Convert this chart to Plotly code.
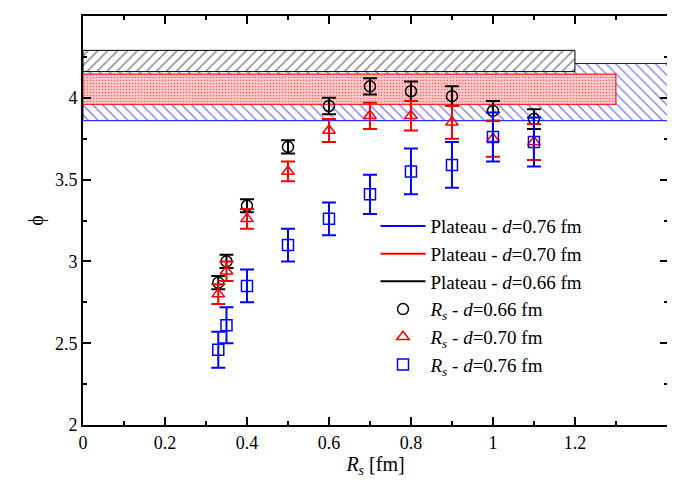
import plotly.graph_objects as go

rs = [0.33, 0.35, 0.4, 0.5, 0.6, 0.7, 0.8, 0.9, 1.0, 1.1]
phi_066 = [2.87, 3.00, 3.34, 3.70, 3.95, 4.07, 4.04, 4.01, 3.92, 3.87]
err_066 = [0.04, 0.04, 0.04, 0.04, 0.05, 0.05, 0.06, 0.06, 0.06, 0.06]
phi_070 = [2.80, 2.94, 3.26, 3.55, 3.80, 3.89, 3.89, 3.85, 3.75, 3.73]
err_070 = [0.06, 0.06, 0.06, 0.06, 0.07, 0.08, 0.09, 0.10, 0.11, 0.11]
phi_076 = [2.46, 2.61, 2.85, 3.10, 3.26, 3.41, 3.55, 3.59, 3.76, 3.73]
err_076 = [0.11, 0.11, 0.10, 0.10, 0.10, 0.12, 0.14, 0.14, 0.15, 0.15]

# plateau bands: (low, high, x end)
band_076 = (3.86, 4.21, 1.43)
band_070 = (3.96, 4.145, 1.3)
band_066 = (4.16, 4.29, 1.2)

fig = go.Figure()

def band(b, line, shape, bg, size):
    lo, hi, xe = b
    fig.add_trace(go.Scatter(x=[0, xe, xe, 0, 0], y=[lo, lo, hi, hi, lo], mode="lines",
                             fill="toself", fillcolor=bg, line=dict(color=line, width=1),
                             fillpattern=dict(shape=shape, fgcolor=line, bgcolor=bg, size=size, solidity=0.2),
                             showlegend=False, hoverinfo="skip"))

band(band_076, "blue", "\\", "white", 7)
band(band_070, "red", ".", "#ffc8c8", 3)
band(band_066, "black", "/", "white", 7)

for name, c in [("Plateau - <i>d</i>=0.76 fm", "blue"), ("Plateau - <i>d</i>=0.70 fm", "red"),
                ("Plateau - <i>d</i>=0.66 fm", "black")]:
    fig.add_trace(go.Scatter(x=[None], y=[None], mode="lines", name=name, line=dict(color=c, width=2)))

for y, e, c, sym, name in [(phi_066, err_066, "black", "circle-open", "<i>R<sub>s</sub></i> - <i>d</i>=0.66 fm"),
                           (phi_070, err_070, "red", "triangle-up-open", "<i>R<sub>s</sub></i> - <i>d</i>=0.70 fm"),
                           (phi_076, err_076, "blue", "square-open", "<i>R<sub>s</sub></i> - <i>d</i>=0.76 fm")]:
    fig.add_trace(go.Scatter(x=rs, y=y, mode="markers", name=name,
                             marker=dict(symbol=sym, size=11, color=c, line=dict(width=1.5, color=c)),
                             error_y=dict(type="data", array=e, color=c, thickness=2, width=7)))

serif = "Times New Roman, Liberation Serif, serif"
ax = dict(showgrid=False, zeroline=False, showline=True, linecolor="black", linewidth=2, mirror="ticks",
          ticks="inside", ticklen=8, tickwidth=2, tickcolor="black", tickfont=dict(family=serif, size=18))
fig.update_xaxes(range=[0, 1.427], tickvals=[0, 0.2, 0.4, 0.6, 0.8, 1, 1.2],
                 minor=dict(ticks="inside", ticklen=4, tickvals=[0.1, 0.3, 0.5, 0.7, 0.9, 1.1, 1.3], tickcolor="black"),
                 title=dict(text="<i>R<sub>s</sub></i> [fm]", standoff=4, font=dict(family=serif, size=20)), **ax)
fig.update_yaxes(range=[2, 4.5], dtick=0.5, minor=dict(ticks="inside", ticklen=4, dtick=0.25, tickcolor="black"),
                 title=dict(text="ϕ", standoff=6, font=dict(family=serif, size=20)), **ax)
fig.update_layout(width=675, height=480, plot_bgcolor="white", paper_bgcolor="white",
                  font=dict(family=serif, size=18, color="black"),
                  margin=dict(l=75, r=15, t=8, b=63, autoexpand=False),
                  legend=dict(x=0.5, y=0.1, xanchor="left", yanchor="bottom", bgcolor="rgba(0,0,0,0)",
                              tracegroupgap=0, itemwidth=45, font=dict(family=serif, size=19)))
fig.write_html("out.html")
